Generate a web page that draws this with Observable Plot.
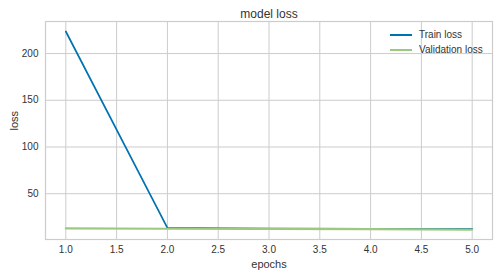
<!DOCTYPE html>
<html>
<head>
<meta charset="utf-8">
<script src="https://cdn.jsdelivr.net/npm/d3@7"></script>
<script src="https://cdn.jsdelivr.net/npm/@observablehq/plot@0.6"></script>
<style>
  html, body { margin: 0; padding: 0; background: #fff; }
  #wrap { position: relative; width: 498px; height: 277px; font-family: "Liberation Sans", Arial, sans-serif; }
  .leg { position: absolute; left: 390px; font-size: 10px; color: #333; }
  .leg span.sw { display: inline-block; width: 22px; height: 0; vertical-align: middle; margin-right: 7px; }
</style>
</head>
<body>
<div id="wrap"></div>
<script>
const epochs = [1, 2, 3, 4, 5];
const trainLoss = [223.6, 13.4, 12.7, 12.5, 12.3];
const valLoss = [13.0, 12.5, 12.3, 12.0, 11.6];
const xTicks = [1.0, 1.5, 2.0, 2.5, 3.0, 3.5, 4.0, 4.5, 5.0];
const yTicks = [50, 100, 150, 200];
const seriesNames = ["Train loss", "Validation loss"];
const colors = ["#0072B2", "#9cc87f"];

const train = epochs.map((e, i) => ({epoch: e, loss: trainLoss[i]}));
const val = epochs.map((e, i) => ({epoch: e, loss: valLoss[i]}));

const chart = Plot.plot({
  width: 498,
  height: 277,
  marginLeft: 45,
  marginRight: 6,
  marginTop: 21,
  marginBottom: 38,
  style: {fontFamily: "'Liberation Sans', Arial, sans-serif", fontSize: "10px", color: "#333", background: "#fff"},
  x: {domain: [0.8, 5.2], ticks: xTicks, tickFormat: d3.format(".1f"), tickSize: 0, tickPadding: 6, label: null},
  y: {domain: [1.0, 234.3], ticks: yTicks, tickSize: 0, tickPadding: 7, label: null},
  marks: [
    Plot.gridX(xTicks, {stroke: "#cccccc", strokeOpacity: 1, strokeWidth: 1}),
    Plot.gridY(yTicks, {stroke: "#cccccc", strokeOpacity: 1, strokeWidth: 1}),
    Plot.frame({stroke: "#cccccc", strokeWidth: 1.2}),
    Plot.axisX({ticks: xTicks, tickFormat: d3.format(".1f"), tickSize: 0, tickPadding: 6, label: null, fill: "#333"}),
    Plot.axisY({ticks: yTicks, tickSize: 0, tickPadding: 7, label: null, fill: "#333"}),
    Plot.line(train, {x: "epoch", y: "loss", stroke: colors[0], strokeWidth: 1.7}),
    Plot.line(val, {x: "epoch", y: "loss", stroke: colors[1], strokeWidth: 2.2}),
    Plot.text(["model loss"], {frameAnchor: "top", dy: -12, fontSize: 12, fill: "#333"}),
    Plot.text(["epochs"], {frameAnchor: "bottom", dy: 28, fontSize: 11, fill: "#333"}),
    Plot.text(["loss"], {frameAnchor: "left", dx: -31, rotate: -90, fontSize: 11, fill: "#333"})
  ]
});
const wrap = document.getElementById("wrap");
wrap.appendChild(chart);
seriesNames.forEach((n, i) => {
  const d = document.createElement("div");
  d.className = "leg";
  d.style.top = (29 + i * 15) + "px";
  d.innerHTML = `<span class="sw" style="border-top: 2px solid ${colors[i]}"></span>${n}`;
  wrap.appendChild(d);
});
</script>
</body>
</html>
